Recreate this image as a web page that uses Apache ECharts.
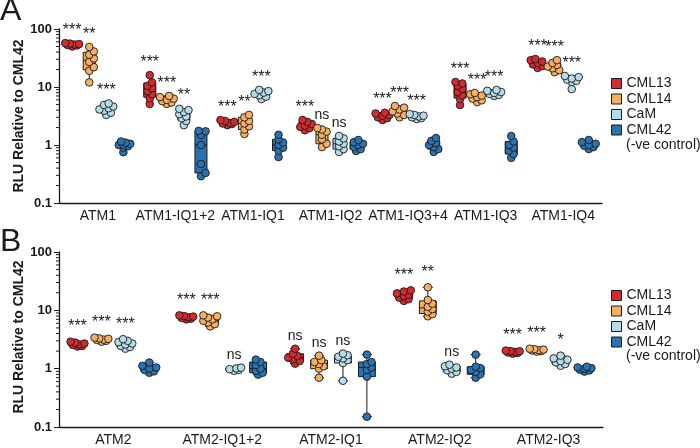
<!DOCTYPE html>
<html><head><meta charset="utf-8">
<script src="https://cdn.jsdelivr.net/npm/echarts@6/dist/echarts.min.js"></script>
<style>html,body{margin:0;padding:0;background:#fff}#c{width:700px;height:448px}</style>
</head><body><div id="c"></div>
<script>
// ---------- data ----------
const groupNames = ['CML13', 'CML14', 'CaM', 'CML42'];
const groupNote = '(-ve control)';
const yAxisTitle = 'RLU Relative to CML42';
const panelLetters = ['A', 'B'];

const categoriesA = ['ATM1', 'ATM1-IQ1+2', 'ATM1-IQ1', 'ATM1-IQ2', 'ATM1-IQ3+4', 'ATM1-IQ3', 'ATM1-IQ4'];
const cml13A = [
  [50, 52, 53, 54, 55, 56, 57],
  [5.1, 6.4, 7.5, 8.5, 9.5, 10.5, 12, 16],
  [2.2, 2.3, 2.35, 2.4, 2.5, 2.6, 2.7],
  [1.8, 1.95, 2.05, 2.15, 2.3, 2.5, 2.7],
  [2.7, 2.9, 3.0, 3.2, 3.3, 3.5, 3.6],
  [4.9, 6.2, 7.2, 8.2, 9.3, 10.5, 11.5, 12.2],
  [21.3, 23, 24.5, 26, 27.5, 29, 30.4]
];
const cml14A = [
  [12, 19, 22, 27, 31, 36, 41, 49],
  [5.1, 5.4, 5.7, 6.0, 6.3, 6.7, 7.0],
  [1.55, 1.85, 2.1, 2.35, 2.6, 3.0, 3.3],
  [0.92, 1.05, 1.25, 1.5, 1.7, 1.85, 1.96],
  [3.0, 3.3, 3.5, 3.8, 4.1, 4.4, 4.7],
  [5.5, 5.9, 6.3, 6.7, 7.1, 7.5, 7.9],
  [18, 19.5, 21, 22.5, 24, 26, 29]
];
const camA = [
  [3.3, 3.6, 3.9, 4.1, 4.3, 4.6, 4.9, 5.2],
  [2.2, 2.6, 2.9, 3.1, 3.4, 3.7, 4.0, 4.2],
  [6.2, 6.8, 7.2, 7.6, 8.0, 8.5, 8.9],
  [0.76, 0.85, 0.95, 1.05, 1.15, 1.3, 1.43],
  [2.8, 2.9, 3.0, 3.1, 3.2, 3.3, 3.4],
  [7.0, 7.3, 7.6, 7.9, 8.2, 8.6, 8.9],
  [9.2, 12.2, 12.8, 13.4, 14, 14.8, 15.5]
];
const cml42A = [
  [0.75, 0.9, 0.95, 1.0, 1.0, 1.05, 1.1, 1.15],
  [0.29, 0.33, 0.47, 1.0, 1.5, 1.72, 1.75],
  [0.62, 0.8, 0.9, 1.0, 1.1, 1.25, 1.5],
  [0.79, 0.85, 0.93, 1.0, 1.05, 1.12, 1.22],
  [0.76, 0.85, 0.92, 1.0, 1.08, 1.18, 1.32],
  [0.6, 0.7, 0.8, 0.9, 1.0, 1.15, 1.43],
  [0.85, 0.92, 0.97, 1.0, 1.05, 1.12, 1.22]
];
const sigCml13A = ['***', '***', '***', '***', '***', '***', '***'];
const sigCml14A = ['**', '***', '**', 'ns', '***', '***', '***'];
const sigCamA = ['***', '**', '***', 'ns', '***', '***', '***'];

const categoriesB = ['ATM2', 'ATM2-IQ1+2', 'ATM2-IQ1', 'ATM2-IQ2', 'ATM2-IQ3'];
const cml13B = [
  [2.4, 2.45, 2.55, 2.6, 2.7, 2.8, 2.9],
  [7.0, 7.2, 7.4, 7.6, 7.8, 8.0, 8.2],
  [1.22, 1.35, 1.45, 1.55, 1.65, 1.8, 2.2],
  [14.5, 15.5, 16.5, 17.5, 18.5, 19.5, 21, 22],
  [1.81, 1.85, 1.9, 1.95, 1.98, 2.0, 2.04]
];
const cml14B = [
  [2.9, 3.0, 3.1, 3.15, 3.25, 3.3, 3.4],
  [5.3, 5.8, 6.2, 6.6, 7.0, 7.5, 7.9, 8.2],
  [0.7, 1.0, 1.1, 1.2, 1.3, 1.4, 1.67],
  [7.9, 8.6, 9.5, 10.5, 11.5, 13, 15, 24.8],
  [1.96, 2.0, 2.05, 2.08, 2.12, 2.16, 2.2]
];
const camB = [
  [2.2, 2.35, 2.45, 2.6, 2.7, 2.85, 3.0, 3.2],
  [0.92, 0.95, 0.98, 1.01, 1.04],
  [0.62, 1.25, 1.4, 1.5, 1.6, 1.7, 1.81],
  [0.82, 0.88, 0.94, 1.0, 1.05, 1.1, 1.17],
  [1.12, 1.2, 1.28, 1.35, 1.42, 1.5, 1.67]
];
const cml42B = [
  [0.85, 0.9, 0.95, 1.0, 1.05, 1.12, 1.27],
  [0.79, 0.85, 0.92, 1.0, 1.15, 1.3, 1.43],
  [0.15, 0.73, 0.95, 1.05, 1.2, 1.3, 1.74],
  [0.7, 0.8, 0.88, 0.95, 1.02, 1.08, 1.74],
  [0.89, 0.93, 0.96, 1.0, 1.02, 1.05, 1.08]
];
const sigCml13B = ['***', '***', 'ns', '***', '***'];
const sigCml14B = ['***', '***', 'ns', '**', '***'];
const sigCamB = ['***', 'ns', 'ns', 'ns', '*'];

const yMin = 0.1, yMax = 100;
const minorTickValues = [0.2, 0.3, 0.4, 0.5, 0.6, 0.7, 0.8, 0.9, 2, 3, 4, 5, 6, 7, 8, 9, 20, 30, 40, 50, 60, 70, 80, 90];

// ---------- styles ----------
const groupColors = ['#d42a2f', '#f5ae64', '#b5dbe9', '#2d72b0'];
const ink = '#1a1a1a';
const FONT = '"Liberation Sans", Arial, Helvetica, sans-serif';

const panels = [
  { cats: categoriesA, series: [cml13A, cml14A, camA, cml42A], sig: [sigCml13A, sigCml14A, sigCamA, null],
    grid: { left: 59, right: 98, top: 29, height: 174 }, legendTop: 76, noteTop: 138, starGap: 9, letterTop: -5,
    titleX: 19, titleY: 116 },
  { cats: categoriesB, series: [cml13B, cml14B, camB, cml42B], sig: [sigCml13B, sigCml14B, sigCamB, null],
    grid: { left: 59, right: 97, top: 252, height: 175 }, legendTop: 288, noteTop: 349, starGap: 11, letterTop: 226,
    titleX: 19, titleY: 337 }
];

function quantile(sorted, p) {
  const n = sorted.length;
  let pos = (n + 1) * p;
  if (pos < 1) pos = 1;
  if (pos > n) pos = n;
  const lo = Math.floor(pos), hi = Math.ceil(pos);
  return sorted[lo - 1] + (sorted[hi - 1] - sorted[lo - 1]) * (pos - lo);
}

function makeRender(panel, g) {
  return function (params, api) {
    const i = params.dataIndex;
    const pts = panel.series[g][i].slice().sort((a, b) => a - b);
    const band = api.size([1, 0])[0];
    const base = api.coord([i, 1]);
    const cx = base[0] + (g - 1.5) * 0.22 * band;
    const bw = 0.155 * band;
    const Y = v => api.coord([i, v])[1];
    const q1 = quantile(pts, 0.25), med = quantile(pts, 0.5), q3 = quantile(pts, 0.75);
    const yLo = Y(pts[0]), yHi = Y(pts[pts.length - 1]);
    const yq1 = Y(q1), yq3 = Y(q3), ymed = Y(med);
    const color = groupColors[g];
    const ch = [];
    const ls = { stroke: ink, lineWidth: 1 };
    ch.push({ type: 'line', shape: { x1: cx, y1: yHi, x2: cx, y2: yq3 }, style: ls });
    ch.push({ type: 'line', shape: { x1: cx, y1: yq1, x2: cx, y2: yLo }, style: ls });
    const cw = bw * 0.3;
    ch.push({ type: 'line', shape: { x1: cx - cw, y1: yHi, x2: cx + cw, y2: yHi }, style: ls });
    ch.push({ type: 'line', shape: { x1: cx - cw, y1: yLo, x2: cx + cw, y2: yLo }, style: ls });
    ch.push({ type: 'rect', shape: { x: cx - bw / 2, y: yq3, width: bw, height: Math.max(yq1 - yq3, 0.5) },
      style: { fill: color, stroke: ink, lineWidth: 1 } });
    ch.push({ type: 'line', shape: { x1: cx - bw / 2, y1: ymed, x2: cx + bw / 2, y2: ymed }, style: ls });
    // beeswarm placement in pixel space
    const r = 3.8, d = 2.3, minD = 4.4;
    const cands = [0, d, -d, 2 * d, -2 * d, 3 * d, -3 * d];
    const ys = pts.map(Y);
    const placed = [];
    ys.forEach(y => {
      let best = 0, bestScore = -1;
      for (const off of cands) {
        let m = Infinity;
        for (const p of placed) m = Math.min(m, Math.hypot(p[0] - off, p[1] - y));
        if (m >= minD) { best = off; break; }
        if (m > bestScore) { bestScore = m; best = off; }
      }
      placed.push([best, y]);
    });
    placed.forEach(p => ch.push({ type: 'circle', shape: { cx: cx + p[0], cy: p[1], r: r },
      style: { fill: color, stroke: ink, lineWidth: 0.9 } }));
    const sig = panel.sig[g] && panel.sig[g][i];
    if (sig) {
      const top = Math.min.apply(null, ys) - r;
      const star = sig.indexOf('*') >= 0;
      ch.push({ type: 'text', style: { text: sig, x: cx, y: top - (star ? panel.starGap : 9),
        align: 'center', verticalAlign: 'middle', fontSize: star ? 16 : 14, fontFamily: FONT, fill: ink } });
    }
    return { type: 'group', children: ch };
  };
}

const grids = [], xAxes = [], yAxes = [], series = [], legends = [], graphics = [];
panels.forEach((panel, pi) => {
  grids.push(panel.grid);
  xAxes.push({
    gridIndex: pi, type: 'category', data: panel.cats,
    axisLine: { lineStyle: { color: ink, width: 1.3 } },
    axisTick: { alignWithLabel: true, length: 5, lineStyle: { color: ink, width: 1 } },
    axisLabel: { fontSize: 14, color: ink, margin: 6, interval: 0, fontFamily: FONT },
    splitLine: { show: false }
  });
  yAxes.push({
    gridIndex: pi, type: 'log', logBase: 10, min: yMin, max: yMax,
    axisLine: { show: true, lineStyle: { color: ink, width: 1.3 } },
    axisTick: { show: true, length: 5, lineStyle: { color: ink, width: 1 } },
    splitLine: { show: false },
    axisLabel: { fontSize: 13, fontWeight: 'bold', color: ink, margin: 7, fontFamily: FONT, formatter: v => String(+v.toPrecision(6)) }
  });
  groupNames.forEach((name, g) => {
    series.push({
      type: 'custom', name: name, xAxisIndex: pi, yAxisIndex: pi,
      itemStyle: { color: groupColors[g], borderColor: ink, borderWidth: 1 },
      data: panel.cats.map((c, i) => [i, Math.max.apply(null, panel.series[g][i])]),
      encode: { x: 0, y: 1 },
      renderItem: makeRender(panel, g),
      clip: false, z: 3
    });
  });
  series.push({
    type: 'custom', xAxisIndex: pi, yAxisIndex: pi, silent: true, clip: false,
    data: minorTickValues.map(v => [0, v]),
    renderItem: (params, api) => {
      const y = api.coord([0, api.value(1)])[1];
      const x = params.coordSys.x;
      return { type: 'line', shape: { x1: x - 3, y1: y, x2: x, y2: y }, style: { stroke: ink, lineWidth: 1 } };
    }
  });
  legends.push({
    orient: 'vertical', left: 611, top: panel.legendTop, icon: 'rect', padding: 0,
    itemWidth: 10, itemHeight: 10, itemGap: 0.5, selectedMode: false,
    textStyle: { fontSize: 14, color: ink, fontFamily: FONT, lineHeight: 15 },
    data: groupNames.map((n, g) => ({ name: n, itemStyle: { color: groupColors[g], borderColor: ink, borderWidth: 1 } }))
  });
  graphics.push({ type: 'text', left: 626, top: panel.noteTop,
    style: { text: groupNote, fontSize: 14, fontFamily: FONT, fill: ink } });
  graphics.push({ type: 'text', left: 0, top: panel.letterTop,
    style: { text: panelLetters[pi], fontSize: 32, fontFamily: FONT, fill: ink } });
  graphics.push({ type: 'text', x: panel.titleX, y: panel.titleY, rotation: Math.PI / 2,
    style: { text: yAxisTitle, fontSize: 14, fontWeight: 'bold', fontFamily: FONT, fill: ink,
      align: 'center', verticalAlign: 'middle' } });
});

const chart = echarts.init(document.getElementById('c'), null, { renderer: 'canvas' });
chart.setOption({
  animation: false,
  backgroundColor: '#fff',
  textStyle: { fontFamily: FONT },
  grid: grids, xAxis: xAxes, yAxis: yAxes, series: series, legend: legends, graphic: graphics
});
</script></body></html>
